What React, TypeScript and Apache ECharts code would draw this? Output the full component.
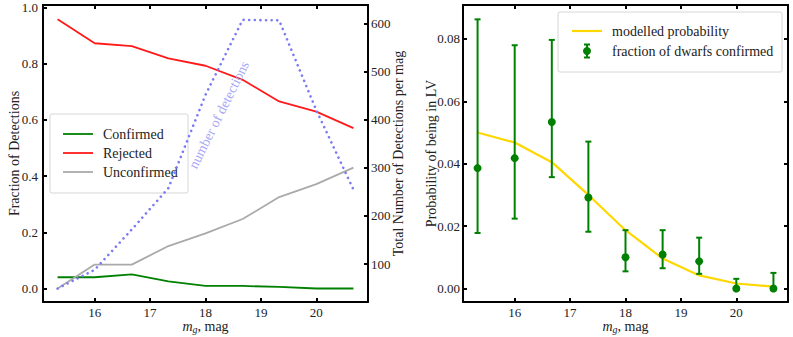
import React, { useEffect, useRef } from "react";
import * as echarts from "echarts";

const mags = [15.33, 16.0, 16.67, 17.33, 18.0, 18.67, 19.33, 20.0, 20.67];
const confirmed = [0.04, 0.04, 0.05, 0.025, 0.009, 0.009, 0.006, 0.0, 0.0];
const rejected = [0.957, 0.872, 0.862, 0.818, 0.792, 0.742, 0.665, 0.629, 0.57];
const unconfirmed = [0.0, 0.085, 0.085, 0.151, 0.196, 0.247, 0.325, 0.371, 0.43];
const detections = [49, 88, 172, 258, 452, 608, 607, 420, 255];
const modelled = [0.05, 0.0468, 0.0405, 0.03, 0.0187, 0.0096, 0.0042, 0.0016, 0.0006];
const fracConfirmed = [0.0386, 0.0418, 0.0534, 0.0292, 0.01, 0.0109, 0.0087, 0.0, 0.0];
const errLow = [0.0178, 0.0224, 0.0357, 0.0182, 0.0055, 0.0065, 0.0047, 0.0, 0.0];
const errHigh = [0.0863, 0.078, 0.0797, 0.0471, 0.0187, 0.0187, 0.0163, 0.0031, 0.005];
const xTicks = [16, 17, 18, 19, 20];
const fracTicks = [0, 0.2, 0.4, 0.6, 0.8, 1.0];
const detTicks = [100, 200, 300, 400, 500, 600];
const probTicks = [0, 0.02, 0.04, 0.06, 0.08];

const FONT = "Liberation Serif";
const TXT = "#222";
const GREEN = "#008000";
const RED = "#ff1a1a";
const GRAY = "#aaaaaa";
const GOLD = "#ffd700";
const DOT = "#7a7af5";

const tickStyle = (vals: number[]) => ({
  show: true,
  inside: true,
  length: 4,
  customValues: vals,
  lineStyle: { color: "#000", width: 2 },
});
const lineStyle = { show: true, onZero: false, lineStyle: { color: "#000", width: 2 } };

const xName = "{i|m}{s|g}{n|, mag}";
const xNameStyle = {
  fontFamily: FONT,
  fontSize: 14,
  color: TXT,
  rich: {
    i: { fontFamily: FONT, fontStyle: "italic", fontSize: 14, color: TXT, verticalAlign: "middle", lineHeight: 16 },
    s: { fontFamily: FONT, fontStyle: "italic", fontSize: 10, color: TXT, verticalAlign: "bottom", lineHeight: 16 },
    n: { fontFamily: FONT, fontSize: 14, color: TXT, verticalAlign: "middle", lineHeight: 16 },
  },
};

function makeX(grid: number, top: boolean) {
  return {
    type: "value",
    gridIndex: grid,
    position: top ? "top" : "bottom",
    min: 15.067,
    max: 20.933,
    axisLine: lineStyle,
    axisTick: tickStyle(xTicks),
    axisLabel: top
      ? { show: false }
      : { show: true, customValues: xTicks, margin: 4, fontFamily: FONT, fontSize: 13, color: TXT },
    splitLine: { show: false },
    name: top ? "" : xName,
    nameLocation: "middle",
    nameGap: 16,
    nameMoveOverlap: false,
    nameTextStyle: xNameStyle,
  };
}

function yName(text: string, gap: number) {
  return {
    name: text,
    nameLocation: "middle",
    nameRotate: 90,
    nameGap: gap,
    nameMoveOverlap: false,
    nameTextStyle: { fontFamily: FONT, fontSize: 14, color: TXT },
  };
}

export default function App() {
  const ref = useRef<HTMLDivElement>(null);
  useEffect(() => {
    if (!ref.current) return;
    const chart = echarts.init(ref.current, null, { renderer: "svg" });
    const pair = (ys: number[]) => mags.map((m, i) => [m, ys[i]]);
    const legendZ = 3;
    const legendText = (text: string, x: number, y: number) => ({
      type: "text",
      z: legendZ,
      x,
      y,
      style: { text, fontFamily: FONT, fontSize: 14, fill: TXT, verticalAlign: "middle" },
    });
    const option: any = {
      animation: false,
      textStyle: { fontFamily: FONT },
      grid: [
        { left: 43, top: 5, width: 325, height: 297, outerBoundsMode: "none", containLabel: false },
        { left: 463, top: 5, width: 325, height: 297, outerBoundsMode: "none", containLabel: false },
      ],
      xAxis: [makeX(0, false), makeX(0, true), makeX(1, false), makeX(1, true)],
      yAxis: [
        {
          type: "value",
          gridIndex: 0,
          position: "left",
          min: -0.048,
          max: 1.008,
          axisLine: lineStyle,
          axisTick: tickStyle(fracTicks),
          axisLabel: {
            customValues: fracTicks,
            formatter: (v: number) => v.toFixed(1),
            margin: 5,
            fontFamily: FONT,
            fontSize: 13,
            color: TXT,
          },
          splitLine: { show: false },
          ...yName("Fraction of Detections", 22),
        },
        {
          type: "value",
          gridIndex: 0,
          position: "right",
          min: 21,
          max: 639,
          axisLine: lineStyle,
          axisTick: tickStyle(detTicks),
          axisLabel: {
            customValues: detTicks,
            margin: 3,
            fontFamily: FONT,
            fontSize: 13,
            color: TXT,
          },
          splitLine: { show: false },
          ...yName("Total Number of Detections per mag", 23),
        },
        {
          type: "value",
          gridIndex: 1,
          position: "left",
          min: -0.00433,
          max: 0.0909,
          axisLine: lineStyle,
          axisTick: tickStyle(probTicks),
          axisLabel: {
            customValues: probTicks,
            formatter: (v: number) => v.toFixed(2),
            margin: 3,
            fontFamily: FONT,
            fontSize: 13,
            color: TXT,
          },
          splitLine: { show: false },
          ...yName("Probability of being in LV", 25),
        },
        {
          type: "value",
          gridIndex: 1,
          position: "right",
          min: -0.00433,
          max: 0.0909,
          axisLine: lineStyle,
          axisTick: tickStyle(probTicks),
          axisLabel: { show: false },
          splitLine: { show: false },
        },
      ],
      series: [
        {
          name: "Confirmed",
          type: "line",
          xAxisIndex: 0,
          yAxisIndex: 0,
          data: pair(confirmed),
          showSymbol: false,
          lineStyle: { color: GREEN, width: 1.8 },
          z: 2,
        },
        {
          name: "Rejected",
          type: "line",
          xAxisIndex: 0,
          yAxisIndex: 0,
          data: pair(rejected),
          showSymbol: false,
          lineStyle: { color: RED, width: 1.8 },
          z: 2,
        },
        {
          name: "Unconfirmed",
          type: "line",
          xAxisIndex: 0,
          yAxisIndex: 0,
          data: pair(unconfirmed),
          showSymbol: false,
          lineStyle: { color: GRAY, width: 1.8 },
          z: 2,
        },
        {
          name: "number of detections",
          type: "line",
          xAxisIndex: 0,
          yAxisIndex: 1,
          data: pair(detections),
          showSymbol: false,
          lineStyle: { color: DOT, width: 2.6, type: [0.01, 5.6], cap: "round" },
          z: 5,
        },
        {
          name: "modelled probability",
          type: "line",
          xAxisIndex: 2,
          yAxisIndex: 2,
          data: pair(modelled),
          showSymbol: false,
          lineStyle: { color: GOLD, width: 2.2 },
          z: 2,
        },
        {
          name: "fraction of dwarfs confirmed (error)",
          type: "custom",
          xAxisIndex: 2,
          yAxisIndex: 2,
          data: mags.map((m, i) => [m, errLow[i], errHigh[i]]),
          encode: { x: 0, y: [1, 2] },
          z: 3,
          renderItem: (params: any, api: any) => {
            const x = api.value(0);
            const lo = api.coord([x, api.value(1)]);
            const hi = api.coord([x, api.value(2)]);
            const hw = 3;
            const st = { stroke: GREEN, lineWidth: 2 };
            return {
              type: "group",
              children: [
                { type: "line", shape: { x1: lo[0], y1: lo[1], x2: hi[0], y2: hi[1] }, style: st },
                { type: "line", shape: { x1: lo[0] - hw, y1: lo[1], x2: lo[0] + hw, y2: lo[1] }, style: st },
                { type: "line", shape: { x1: hi[0] - hw, y1: hi[1], x2: hi[0] + hw, y2: hi[1] }, style: st },
              ],
            };
          },
        },
        {
          name: "fraction of dwarfs confirmed",
          type: "scatter",
          xAxisIndex: 2,
          yAxisIndex: 2,
          data: pair(fracConfirmed),
          symbol: "circle",
          symbolSize: 8,
          itemStyle: { color: GREEN, opacity: 1 },
          z: 4,
        },
      ],
      graphic: [
        {
          type: "text",
          x: 219,
          y: 115,
          rotation: (63.4 * Math.PI) / 180,
          z: 6,
          style: {
            text: "number of detections",
            font: "14px 'Liberation Serif'",
            fill: "#a8a8f5",
            align: "center",
            verticalAlign: "middle",
          },
        },
        {
          type: "rect",
          z: legendZ,
          shape: { x: 50, y: 114, width: 138, height: 79, r: 2 },
          style: { fill: "rgba(255,255,255,0.85)", stroke: "#d6d6d6", lineWidth: 1 },
        },
        ...[
          ["Confirmed", GREEN, 134],
          ["Rejected", RED, 153],
          ["Unconfirmed", GRAY, 172],
        ].flatMap(([label, color, y]: any) => [
          {
            type: "line",
            z: legendZ,
            shape: { x1: 63, y1: y, x2: 93, y2: y },
            style: { stroke: color, lineWidth: 1.8 },
          },
          legendText(label, 103, y),
        ]),
        {
          type: "rect",
          z: legendZ,
          shape: { x: 558, y: 12, width: 224, height: 60, r: 2 },
          style: { fill: "rgba(255,255,255,0.85)", stroke: "#d6d6d6", lineWidth: 1 },
        },
        {
          type: "line",
          z: legendZ,
          shape: { x1: 572, y1: 31, x2: 602, y2: 31 },
          style: { stroke: GOLD, lineWidth: 2.2 },
        },
        legendText("modelled probability", 612, 31),
        {
          type: "line",
          z: legendZ,
          shape: { x1: 587, y1: 44.5, x2: 587, y2: 57.5 },
          style: { stroke: GREEN, lineWidth: 2 },
        },
        {
          type: "line",
          z: legendZ,
          shape: { x1: 584, y1: 44.5, x2: 590, y2: 44.5 },
          style: { stroke: GREEN, lineWidth: 2 },
        },
        {
          type: "line",
          z: legendZ,
          shape: { x1: 584, y1: 57.5, x2: 590, y2: 57.5 },
          style: { stroke: GREEN, lineWidth: 2 },
        },
        {
          type: "circle",
          z: legendZ,
          shape: { cx: 587, cy: 51, r: 4 },
          style: { fill: GREEN },
        },
        legendText("fraction of dwarfs confirmed", 612, 51),
      ],
    };
    chart.setOption(option);
    return () => chart.dispose();
  }, []);
  return (
    <div
      ref={ref}
      style={{ position: "absolute", left: 0, top: 0, width: 793, height: 337, background: "#fff" }}
    />
  );
}
